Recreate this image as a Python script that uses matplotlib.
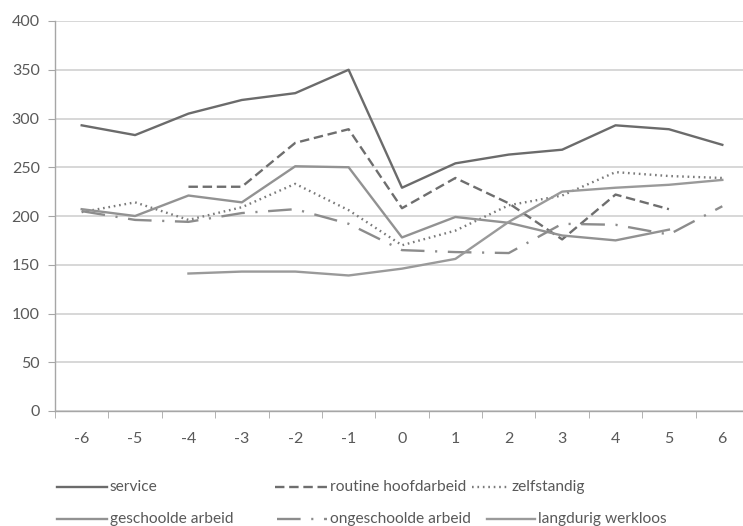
import numpy as np
import matplotlib
matplotlib.use('Agg')
import matplotlib.pyplot as plt
from matplotlib.lines import Line2D

nan = np.nan
years = [-6, -5, -4, -3, -2, -1, 0, 1, 2, 3, 4, 5, 6]

service = [293, 283, 305, 319, 326, 350, 229, 254, 263, 268, 293, 289, 273]
routine = [nan, nan, 230, 230, 275, 289, 208, 239, 213, 176, 222, 207, nan]
zelfstandig = [204, 214, 196, 209, 233, 206, 170, 185, 211, 221, 245, 241, 239]
geschoold = [207, 200, 221, 214, 251, 250, 178, 199, 193, 180, 175, 186, nan]
ongeschoold = [205, 196, 194, 203, 207, 192, 165, 163, 162, 192, 191, 181, 210]
werkloos = [nan, nan, 141, 143, 143, 139, 146, 156, 194, 225, 229, 232, 237]

plt.rcParams['font.family'] = ['Lato', 'DejaVu Sans']
txt = '#595959'

fig = plt.figure(figsize=(7.43, 5.26), dpi=100)
ax = fig.add_axes([55/743, (526-411)/526, 694/743, 390/526])

x = np.arange(len(years))
series = [
    ('service', service, dict(color='#6b6b6b', ls='-')),
    ('routine hoofdarbeid', routine, dict(color='#6e6e6e', ls=(0, (4, 2)))),
    ('zelfstandig', zelfstandig, dict(color='#7a7a7a', ls=(0, (0.7, 1.6)))),
    ('geschoolde arbeid', geschoold, dict(color='#929292', ls='-')),
    ('ongeschoolde arbeid', ongeschoold, dict(color='#8c8c8c', ls=(0, (10, 4.5, 0.9, 4.5)))),
    ('langdurig werkloos', werkloos, dict(color='#9a9a9a', ls='-')),
]
for name, vals, st in series:
    ax.plot(x, vals, lw=1.7, **st)

ax.set_xlim(-0.5, len(years) - 0.5)
ax.set_ylim(0, 400)
ax.set_yticks(range(0, 401, 50))
ax.set_xticks(x)
ax.set_xticklabels([str(v) for v in years])
ax.set_xticks(np.arange(-0.5, len(years)), minor=True)
ax.tick_params(axis='x', which='major', length=0, pad=15, labelsize=11.5, labelcolor=txt)
ax.tick_params(axis='x', which='minor', length=5, color='#a6a6a6', direction='out')
ax.tick_params(axis='y', length=5, color='#a6a6a6', pad=6, labelsize=11.5, labelcolor=txt)
ax.grid(axis='y', color='#d4d4d4', lw=1.3)
ax.set_axisbelow(True)
for s in ['top', 'right']:
    ax.spines[s].set_visible(False)
for s in ['left', 'bottom']:
    ax.spines[s].set_color('#a6a6a6')
    ax.spines[s].set_linewidth(1.0)

# legend, laid out like the original
leg_pos = [(57, 107, 487), (275, 327, 487), (472, 508, 487),
           (57, 107, 519), (277, 327, 519), (487, 535, 519)]
for (name, vals, st), (x0, x1, yp) in zip(series, leg_pos):
    yf = 1 - yp / 526
    fig.add_artist(Line2D([x0/743, x1/743], [yf, yf], lw=1.7, **st))
    fig.text((x1 + 3)/743, yf, name, color=txt, fontsize=11.2, va='center', ha='left')

fig.savefig('out.png', dpi=100)
